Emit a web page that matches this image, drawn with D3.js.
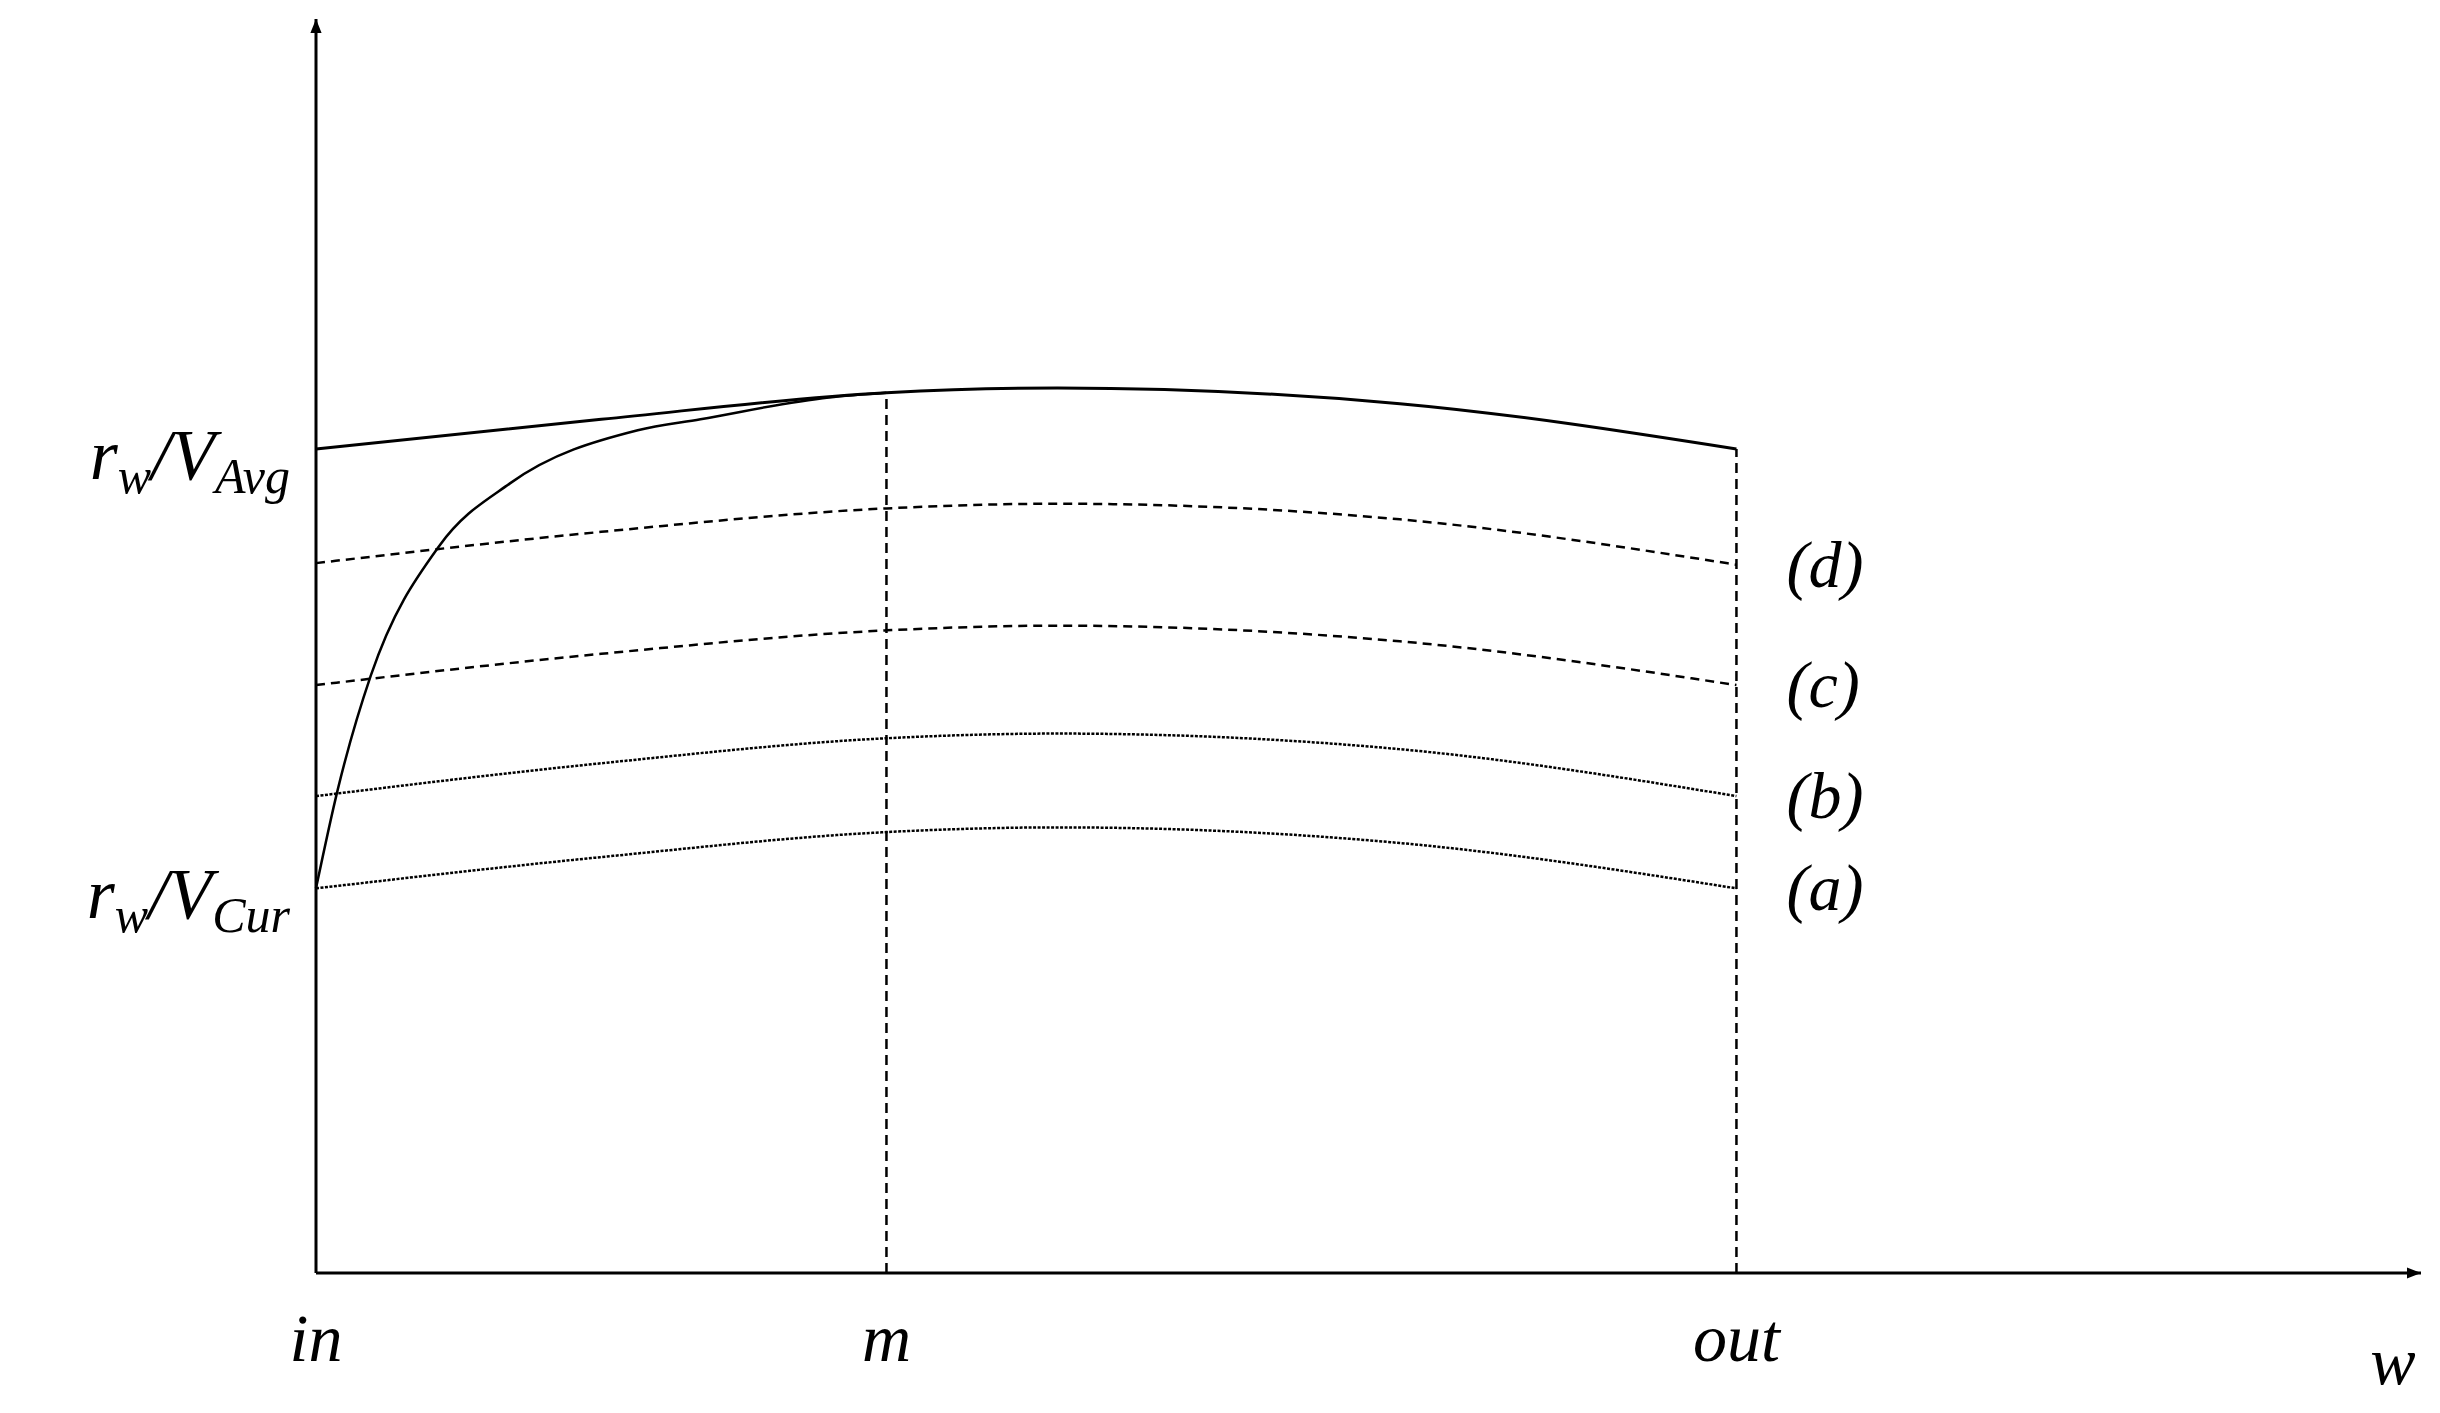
<!DOCTYPE html>
<html><head><meta charset="utf-8">
<script src="https://cdn.jsdelivr.net/npm/d3@7"></script>
<style>body{margin:0;background:#fff}text{font-family:"Liberation Serif","DejaVu Serif",serif;font-style:italic;fill:#000}</style>
</head><body><svg id="chart" width="2440" height="1413"></svg>
<script>
// positions along w: in = 0, m = 1
let ticks = [{name: "in", w: 0}, {name: "m", w: 1}, {name: "out", w: 2.49}]
let wPts = [0, 0.5, 1, 1.3, 1.9, 2.49]
let topVals = [527, 546, 563, 566, 556, 527]
let dVals = [454, 474, 489, 492, 482, 453]
let cVals = [376, 396, 411, 414, 404, 376]
let bVals = [305, 326, 342, 345, 335, 305]
let aVals = [246, 266, 282, 285, 275, 246]
let riseW = [0, 0.038, 0.096, 0.216, 0.34, 0.564, 0.674, 0.899, 1]
let riseV = [246, 309, 382, 465, 505, 539, 546, 560, 563]

let svg = d3.select("#chart")
let x = d3.scaleLinear().domain([0, 3.69]).range([316, 2421])
let y = d3.scaleLinear().domain([0, 802]).range([1273, 19])

svg.append("defs").append("marker").attr("id", "arr")
    .attr("viewBox", "0 0 10 10").attr("refX", 10).attr("refY", 5)
    .attr("markerWidth", 14).attr("markerHeight", 14).attr("markerUnits", "userSpaceOnUse")
    .attr("orient", "auto")
    .append("path").attr("d", "M0,1L10,5L0,9z")

// axes
svg.append("line").attr("x1", x(0)).attr("y1", y(0)).attr("x2", x(3.69)).attr("y2", y(0))
    .attr("stroke", "#000").attr("stroke-width", 3).attr("marker-end", "url(#arr)")
svg.append("line").attr("x1", x(0)).attr("y1", y(0)).attr("x2", x(0)).attr("y2", y(802))
    .attr("stroke", "#000").attr("stroke-width", 3).attr("marker-end", "url(#arr)")

let line = d3.line().x(d => x(d[0])).y(d => y(d[1])).curve(d3.curveMonotoneX)

let series = [
    {vals: topVals, dash: null, w: 3},
    {vals: dVals, dash: "9,6", w: 2.5, label: "(d)"},
    {vals: cVals, dash: "9,6", w: 2.5, label: "(c)"},
    {vals: bVals, dash: "3,1.5", w: 2.5, label: "(b)"},
    {vals: aVals, dash: "3,1.5", w: 2.5, label: "(a)"}
]
series.forEach(s => {
    svg.append("path").attr("d", line(wPts.map((w, i) => [w, s.vals[i]])))
        .attr("fill", "none").attr("stroke", "#000").attr("stroke-width", s.w)
        .attr("stroke-dasharray", s.dash)
    if (s.label)
        svg.append("text").attr("x", x(2.49) + 50).attr("y", y(s.vals[5]) + 22)
            .attr("font-size", 66).attr("font-style", "normal").text(s.label)
})

svg.append("path").attr("d", line(riseW.map((w, i) => [w, riseV[i]])))
    .attr("fill", "none").attr("stroke", "#000").attr("stroke-width", 2.5)

// vertical guides at m and out
ticks.slice(1).forEach(t => {
    let top = t.w === 1 ? topVals[2] : topVals[5]
    svg.append("line").attr("x1", x(t.w)).attr("x2", x(t.w)).attr("y1", y(0)).attr("y2", y(top))
        .attr("stroke", "#000").attr("stroke-width", 2.5).attr("stroke-dasharray", "10,6")
})

ticks.forEach(t => {
    svg.append("text").attr("x", x(t.w)).attr("y", 1361).attr("text-anchor", "middle")
        .attr("font-size", 68).text(t.name)
})
svg.append("text").attr("x", 2393).attr("y", 1384).attr("text-anchor", "middle")
    .attr("font-size", 68).text("w")

function yLabel(sub, val) {
    let t = svg.append("text").attr("x", 290).attr("y", y(val) + 30)
        .attr("text-anchor", "end").attr("font-size", 72)
    t.append("tspan").text("r")
    t.append("tspan").attr("font-size", 50).attr("dy", 14).text("w")
    t.append("tspan").attr("dy", -14).text("/V")
    t.append("tspan").attr("font-size", 50).attr("dy", 14).text(sub)
}
yLabel("Avg", topVals[0])
yLabel("Cur", aVals[0])
</script></body></html>
